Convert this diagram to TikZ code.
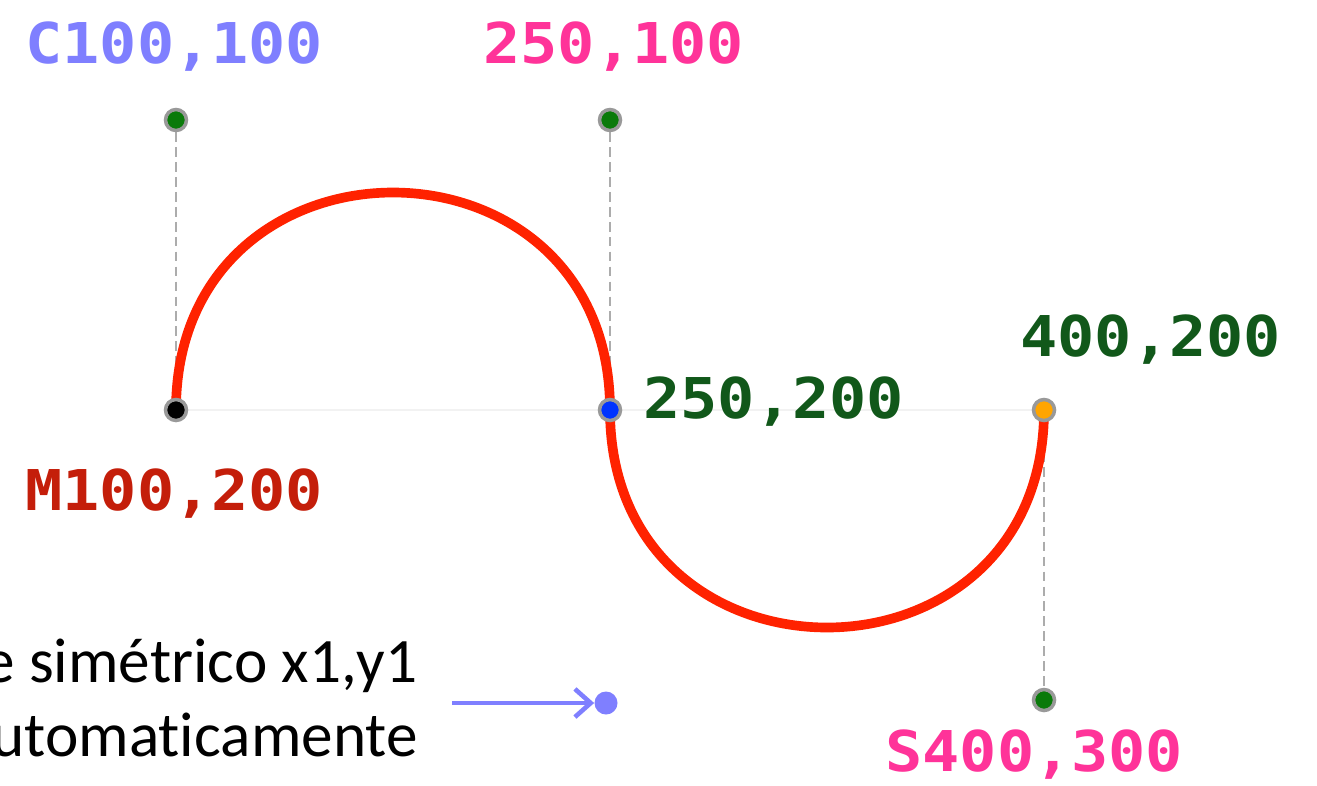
\documentclass[tikz,border=0pt]{standalone}
\usepackage{fontspec}
\setmainfont[Ligatures=NoCommon]{Carlito}
\newfontfamily\codefont[FakeStretch=1.1]{DejaVu Sans Mono}
\usetikzlibrary{arrows.meta,backgrounds}
\definecolor{ctrlblue}{HTML}{7F7FFF}
\definecolor{ctrlpink}{HTML}{FF3399}
\definecolor{startred}{HTML}{C41E0A}
\definecolor{endgreen}{HTML}{11581A}
\definecolor{curvered}{HTML}{FF2200}
\definecolor{dotgreen}{HTML}{0A7A0A}
\definecolor{dotblue}{HTML}{0033FF}
\definecolor{dotorange}{HTML}{FFA500}

\begin{document}
\begin{tikzpicture}[
  x=0.02cm,y=-0.02cm,
  point/.style={circle,draw=gray!80,line width=2pt,minimum size=0.42cm,inner sep=0pt},
  coordlabel/.style={anchor=base west,inner sep=0pt,font=\codefont\bfseries\fontsize{32}{36}\selectfont},
  helper/.style={gray!65,line width=1.6pt,dash pattern=on 5.5pt off 3pt},
  curve/.style={curvered,line width=5.5pt}
]
  \useasboundingbox (0,0) rectangle (1317,785);

  \node[point,fill=black] (start) at (176,410) {};
  \node[point,fill=dotgreen] (ctrla) at (176,120) {};
  \node[point,fill=dotgreen] (ctrlb) at (610,120) {};
  \node[point,fill=dotblue] (middle) at (610,410) {};
  \node[point,fill=dotorange] (finish) at (1044,410) {};
  \node[point,fill=dotgreen] (ctrld) at (1044,700) {};
  \node[circle,fill=ctrlblue,minimum size=0.46cm,inner sep=0pt] (mirror) at (606,703) {};

  \begin{pgfonlayer}{background}
    \draw[gray!10,line width=0.8pt] (start) -- (middle) -- (finish);
    \draw[helper] (ctrla) -- (start);
    \draw[helper] (ctrlb) -- (middle);
    \draw[helper] (finish) -- (ctrld);
    \draw[curve] (start.center) .. controls (ctrla.center) and (ctrlb.center) .. (middle.center)
      .. controls (610,700) and (ctrld.center) .. (finish.center);
  \end{pgfonlayer}

  \node[coordlabel,text=ctrlblue] (labela) at (25,63) {C100,100};
  \node[coordlabel,text=ctrlpink] (labelb) at (483,63) {250,100};
  \node[coordlabel,text=startred] (labelstart) at (25,510) {M100,200};
  \node[coordlabel,text=endgreen] (labelmiddle) at (643,418) {250,200};
  \node[coordlabel,text=endgreen] (labelfinish) at (1020,356) {400,200};
  \node[coordlabel,text=ctrlpink] (labeld) at (885,771) {S400,300};

  \node[anchor=south east,inner sep=0pt,align=right,font=\fontsize{36}{42}\selectfont] (note) at (418,757)
    {e simétrico x1,y1\\utomaticamente};
  \coordinate (notearrow) at (452,703);
  \draw[-{Straight Barb[length=9pt,width=16pt]},ctrlblue,line width=2.6pt] (notearrow) -- (mirror);
\end{tikzpicture}
\end{document}
